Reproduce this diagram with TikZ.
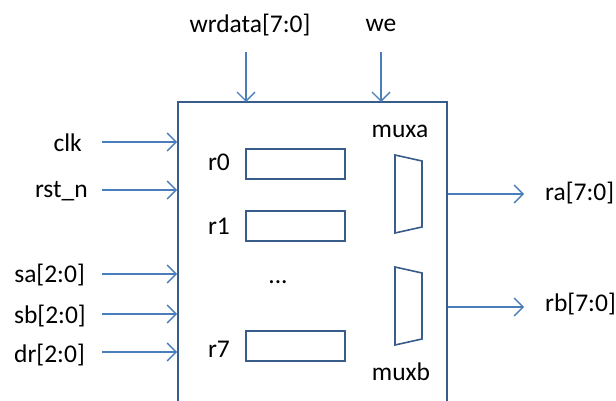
\documentclass[tikz,border=0pt]{standalone}
\usepackage{fontspec}
\setmainfont{Carlito}
\usetikzlibrary{arrows.meta}
\definecolor{arrowblue}{RGB}{74,126,187}
\definecolor{boxblue}{RGB}{56,93,138}
\tikzset{
  sig/.style={draw=arrowblue, line width=1.4pt, -{Straight Barb[length=9pt,width=18pt,line width=1.4pt]}},
  outline/.style={draw=boxblue, line width=1.8pt},
  lbl/.style={inner sep=0pt, font=\fontsize{25.5}{30}\selectfont},
}
\begin{document}
\begin{tikzpicture}[x=1pt,y=-1pt]
\useasboundingbox (0,0) rectangle (616,401);
% main block
\draw[outline] (178,420) -- (178,102) coordinate (tl) -- (447,102) coordinate (tr) -- (447,420);
\coordinate (boxtop1) at (246,102);
\coordinate (boxtop2) at (381,102);
% top inputs
\node[lbl] (wrdata) at (250,25) {wrdata[7:0]};
\node[lbl] (we) at (381,25) {we};
\coordinate (wrs) at (246,52);
\coordinate (wes) at (381,52);
\draw[sig] (wrs) -- (boxtop1);
\draw[sig] (wes) -- (boxtop2);
% left inputs
\node[lbl, anchor=east] (clk) at (82,143) {clk};
\node[lbl, anchor=east] (rstn) at (88,191) {rst\_n};
\node[lbl, anchor=east] (sa) at (85,275) {sa[2:0]};
\node[lbl, anchor=east] (sb) at (86,316) {sb[2:0]};
\node[lbl, anchor=east] (dr) at (85,355) {dr[2:0]};
\foreach \n/\y in {c/142,r/190,a/274,b/314,d/352}{
  \coordinate (s\n) at (102,\y);
  \coordinate (e\n) at (177,\y);
  \draw[sig] (s\n) -- (e\n);
}
% registers
\node[outline, minimum width=99pt, minimum height=30pt, inner sep=0pt] (r0) at (295.5,164) {};
\node[outline, minimum width=99pt, minimum height=30pt, inner sep=0pt] (r1) at (295.5,226) {};
\node[outline, minimum width=99pt, minimum height=30pt, inner sep=0pt] (r7) at (295.5,346) {};
\node[lbl] (l0) at (219,162) {r0};
\node[lbl] (l1) at (219,226) {r1};
\node[lbl] (l7) at (219,349) {r7};
\node[lbl] (dots) at (278,282) {...};
% muxes
\draw[outline, line width=1.6pt] (395,155) -- (422,161) -- (422,227) -- (395,233) -- cycle;
\draw[outline, line width=1.6pt] (395,267) -- (422,273) -- (422,339) -- (395,345) -- cycle;
\node[lbl] (muxa) at (400,131) {muxa};
\node[lbl] (muxb) at (401,372) {muxb};
% outputs
\coordinate (oa) at (448,194);
\coordinate (ob) at (448,307);
\coordinate (ea) at (524,194);
\coordinate (eb) at (524,307);
\draw[sig] (oa) -- (ea);
\draw[sig] (ob) -- (eb);
\node[lbl, anchor=west] (ra) at (545,193) {ra[7:0]};
\node[lbl, anchor=west] (rb) at (545,304) {rb[7:0]};
\end{tikzpicture}
\end{document}
